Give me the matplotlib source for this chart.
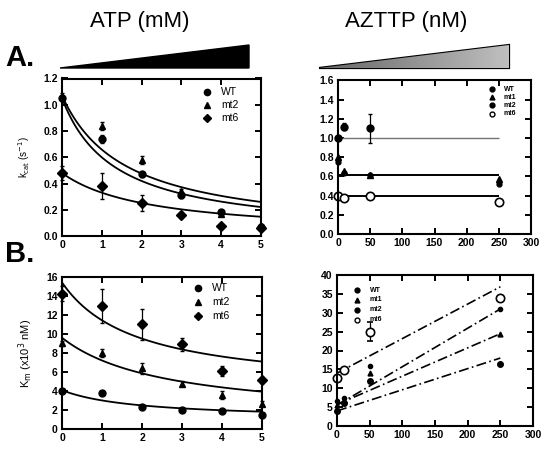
import numpy as np
import matplotlib.pyplot as plt
from matplotlib.patches import Polygon

plt.rcParams['font.family'] = ['Liberation Sans', 'DejaVu Sans']

# --- data: panel A, left (kcat vs ATP) ---
atp = [0, 1, 2, 3, 4, 5]
kcat_wt = [1.05, 0.74, 0.47, 0.31, 0.18, 0.07]
kcat_wt_err = [0.02, 0.03, 0.02, 0.02, 0.01, 0.01]
kcat_mt2 = [1.07, 0.84, 0.58, 0.34, 0.17, 0.08]
kcat_mt2_err = [0.02, 0.03, 0.03, 0.02, 0.01, 0.01]
kcat_mt6 = [0.48, 0.38, 0.25, 0.16, 0.08, 0.06]
kcat_mt6_err = [0.05, 0.10, 0.06, 0.02, 0.01, 0.01]
# fitted hyperbolas  k = a / (1 + x/K) + c
kcat_fits = [(1.07, 1.60, 0.0), (1.05, 1.33, 0.0), (0.48, 2.20, 0.0)]

# --- data: panel A, right (kcat vs AZTTP) ---
aztp = [0, 10, 50, 250]
kaz_wt = [1.00, 1.12, 1.10, np.nan]
kaz_wt_err = [0.0, 0.04, 0.15, 0.0]
kaz_mt1 = [0.80, 0.66, 0.62, 0.57]
kaz_mt2 = [0.75, 0.64, 0.62, 0.52]
kaz_mt6 = [0.40, 0.38, 0.40, 0.33]
kaz_levels = [1.00, 0.62, 0.40]

# --- data: panel B, left (Km vs ATP) ---
km_wt = [4.0, 3.85, 2.3, 2.0, 1.95, 1.5]
km_wt_err = [0.2, 0.2, 0.2, 0.1, 0.1, 0.2]
km_mt2 = [9.0, 8.0, 6.4, 4.8, 3.6, 2.7]
km_mt2_err = [0.3, 0.4, 0.6, 0.3, 0.4, 0.3]
km_mt6 = [14.2, 12.9, 11.0, 8.9, 6.1, 5.2]
km_mt6_err = [0.8, 1.8, 1.6, 0.7, 0.5, 0.3]
km_fits = [(11.4, 1.87, 4.0), (8.6, 2.61, 1.0), (3.1, 1.89, 1.0)]

# --- data: panel B, right (Km vs AZTTP) ---
kmz_wt = [4.0, 6.0, 12.0, 16.3]
kmz_mt1 = [5.5, 7.0, 14.0, 24.5]
kmz_mt2 = [6.5, 7.5, 16.0, 31.0]
kmz_mt6 = [12.8, 14.8, 25.0, 34.0]
kmz_mt6_err = [0.5, 0.5, 2.5, 0.5]
kmz_lines = [(14.0, 0.0915), (5.5, 0.102), (5.7, 0.075), (4.0, 0.056)]

W, H = 543, 449
fig = plt.figure(figsize=(W / 100, H / 100), dpi=100)


def box(x0, x1, ytop, ybot):
    return [x0 / W, 1 - ybot / H, (x1 - x0) / W, (ybot - ytop) / H]


def style(ax, xt, yt, xl, yl, yfmt):
    ax.set_xlim(xl)
    ax.set_ylim(yl)
    ax.set_xticks(xt)
    ax.set_yticks(yt)
    ax.set_yticklabels([yfmt.format(v) for v in yt])
    ax.tick_params(direction='in', top=True, right=True, length=4, width=1.4,
                   labelsize=7.5, pad=3)
    for lab in ax.get_xticklabels() + ax.get_yticklabels():
        lab.set_fontweight('bold')
    for s in ax.spines.values():
        s.set_linewidth(1.5)


mk = dict(color='black', ms=5, ls='none', capsize=1.5, elinewidth=0.9, clip_on=False)

# A left
ax1 = fig.add_axes(box(62, 261, 78.5, 236))
xs = np.linspace(0, 5, 100)
for a, K, c in kcat_fits:
    ax1.plot(xs, a / (1 + xs / K) + c, color='black', lw=1.3)
ax1.errorbar(atp, kcat_wt, yerr=kcat_wt_err, fmt='o', **mk)
ax1.errorbar(atp, kcat_mt2, yerr=kcat_mt2_err, fmt='^', **mk)
ax1.errorbar(atp, kcat_mt6, yerr=kcat_mt6_err, fmt='D', **mk)
style(ax1, range(6), np.arange(0, 1.21, 0.2), (0, 5), (0, 1.2), '{:.1f}')
ax1.set_ylabel('k$_{\\rm cat}$ (s$^{-1}$)', fontsize=7, labelpad=8)
for i, (lab, m) in enumerate(zip(['WT', 'mt2', 'mt6'], ['o', '^', 'D'])):
    ax1.plot(3.65, 1.10 - 0.1 * i, m, color='black', ms=4.5)
    ax1.text(4.0, 1.10 - 0.1 * i, lab, fontsize=7.5, va='center')

# A right
ax2 = fig.add_axes(box(338, 531, 80.5, 234))
ax2.hlines(kaz_levels[0], 0, 250, color='0.45', lw=1.0)
ax2.hlines(kaz_levels[1:], 0, 250, color='black', lw=1.4)
ax2.errorbar(aztp, kaz_wt, yerr=kaz_wt_err, fmt='o', **mk)
ax2.plot(aztp, kaz_mt1, '^', color='black', ms=4, clip_on=False)
ax2.plot(aztp, kaz_mt2, 'o', color='black', ms=3.5, clip_on=False)
ax2.plot(aztp, kaz_mt6, 'o', mfc='white', mec='black', ms=6, mew=1.2, clip_on=False)
style(ax2, range(0, 301, 50), np.arange(0, 1.61, 0.2), (0, 300), (0, 1.6), '{:.1f}')
leg2 = [('WT', 'o', 'black'), ('mt1', '^', 'black'), ('mt2', 'o', 'black'), ('mt6', 'o', 'white')]
for i, (lab, m, fc) in enumerate(leg2):
    ax2.plot(240, 1.51 - 0.085 * i, m, mfc=fc, mec='black', ms=3.5)
    ax2.text(258, 1.51 - 0.085 * i, lab, fontsize=5, va='center', fontweight='bold')

# B left
ax3 = fig.add_axes(box(62, 262, 276.7, 429.3))
for a, K, c in km_fits:
    ax3.plot(xs, a / (1 + xs / K) + c, color='black', lw=1.3)
ax3.errorbar(atp, km_wt, yerr=km_wt_err, fmt='o', **mk)
ax3.errorbar(atp, km_mt2, yerr=km_mt2_err, fmt='^', **mk)
ax3.errorbar(atp, km_mt6, yerr=km_mt6_err, fmt='D', **mk)
style(ax3, range(6), range(0, 17, 2), (0, 5), (0, 16), '{:d}')
ax3.set_ylabel('K$_{\\rm m}$ (x10$^3$ nM)', fontsize=8, labelpad=8)
for i, (lab, m) in enumerate(zip(['WT', 'mt2', 'mt6'], ['o', '^', 'D'])):
    ax3.plot(3.4, 14.8 - 1.45 * i, m, color='black', ms=4.5)
    ax3.text(3.75, 14.8 - 1.45 * i, lab, fontsize=7.5, va='center')

# B right
ax4 = fig.add_axes(box(337, 533, 275, 426))
xz = np.linspace(0, 250, 50)
for b0, m in kmz_lines:
    ax4.plot(xz, b0 + m * xz, color='black', lw=1.2, ls=(0, (6, 2, 1, 2)))
ax4.plot(aztp, kmz_wt, 'o', color='black', ms=4, clip_on=False)
ax4.plot(aztp, kmz_mt1, '^', color='black', ms=3.5, clip_on=False)
ax4.plot(aztp, kmz_mt2, 'o', color='black', ms=3, clip_on=False)
ax4.errorbar(aztp, kmz_mt6, yerr=kmz_mt6_err, fmt='o', mfc='white', mec='black',
             ms=6, mew=1.2, color='black', capsize=2, elinewidth=0.9, clip_on=False)
style(ax4, range(0, 301, 50), range(0, 41, 5), (0, 300), (0, 40), '{:d}')
for i, (lab, m, fc) in enumerate(leg2):
    ax4.plot(31, 36 - 2.6 * i, m, mfc=fc, mec='black', ms=3.5)
    ax4.text(50, 36 - 2.6 * i, lab, fontsize=5, va='center', fontweight='bold')

# wedges, titles, panel letters
ov = fig.add_axes([0, 0, 1, 1], zorder=-1)
ov.axis('off')
ov.add_patch(Polygon([(60, 68), (249, 45), (249, 68)], closed=True, color='black'))
wedge = Polygon([(319, 68), (509, 45), (509, 68)], closed=True, fc='none', ec='black', lw=1.6)
ov.add_patch(wedge)
grad = np.tile(np.linspace(0.6, 0.25, 200), (20, 1))
im = ov.imshow(grad, cmap='gray_r', vmin=0, vmax=1, extent=(319, 509, 68, 45),
               aspect='auto', zorder=1)
im.set_clip_path(wedge)
ov.set_xlim(0, W)
ov.set_ylim(H, 0)

fig.text(140 / W, 1 - 22 / H, 'ATP (mM)', fontsize=16, ha='center', va='center')
fig.text(406 / W, 1 - 22 / H, 'AZTTP (nM)', fontsize=16, ha='center', va='center')
fig.text(5 / W, 1 - 58 / H, 'A.', fontsize=21, fontweight='heavy', va='center')
fig.text(5 / W, 1 - 254 / H, 'B.', fontsize=21, fontweight='heavy', va='center')

fig.savefig('out.png', dpi=100)
